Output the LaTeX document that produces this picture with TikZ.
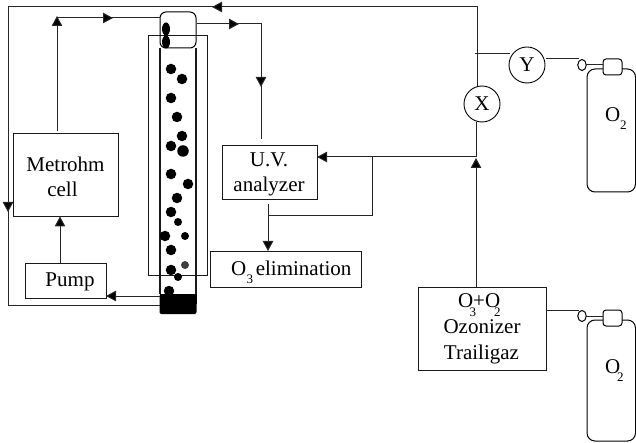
\documentclass[tikz,border=0pt]{standalone}
\usepackage{fontspec}
\setmainfont{Liberation Serif}
\usetikzlibrary{arrows.meta,calc,shapes.geometric}
\newcommand{\lowidx}[3]{\rlap{\kern#1\raisebox{#2}{\fontsize{13}{15}\selectfont #3}}}
\tikzset{
  x=1pt,y=-1pt,
  every node/.style={inner sep=0pt,outer sep=0pt},
  wire/.style={draw=black!85,line width=1pt},
  flow/.style={wire,-{Triangle[length=10pt,width=10.5pt,fill=black]}},
  boxnode/.style={draw=black!90,rectangle,line width=0.9pt},
  txt/.style={anchor=base,font=\fontsize{21}{25}\selectfont},
  dial/.style={draw=black,circle,minimum size=36pt,line width=0.9pt,font=\fontsize{21}{25}\selectfont},
  bubble/.style={fill=black,draw=none,circle,minimum size=#1},
  bubble/.default=10.5pt,
  valve/.style={draw=black,rectangle,rounded corners=3pt,line width=1pt,minimum width=19pt,minimum height=16pt},
  orifice/.style={draw=black,ellipse,line width=1pt,fill=white,minimum width=8.5pt,minimum height=11pt},
  column/.style={draw=black!90,line width=1.5pt}
}
\begin{document}
\begin{tikzpicture}
\useasboundingbox (0,0) rectangle (636,443);
% boxes
\node[boxnode,minimum width=105pt,minimum height=83pt] (metrohm) at (65.5,174.5) {};
\node[boxnode,minimum width=81pt,minimum height=35pt] (pump) at (65.5,280.5) {};
\node[boxnode,minimum width=95pt,minimum height=54pt] (uv) at (269.5,172) {};
\node[boxnode,minimum width=151pt,minimum height=36pt] (elim) at (285.5,269) {};
\node[boxnode,minimum width=128pt,minimum height=83pt] (ozon) at (482,328.5) {};
\node[boxnode,minimum width=59pt,minimum height=240pt] (jacket) at (177.5,155) {};
\node[draw=black,rectangle,rounded corners=6pt,line width=1pt,minimum width=36pt,minimum height=36pt] (head) at (178,30) {};
\node[fill=black,draw=none,rectangle,rounded corners=2pt,minimum width=37pt,minimum height=20pt] (base) at (178,304) {};
\fill[black] (159.5,294) rectangle (196.5,304);
% column walls
\draw[column] (160,48) -- (160,294);
\draw[column] (196,48) -- (196,294);
% bubbles
\node[fill=black,ellipse,minimum width=8pt,minimum height=13pt] (t1) at (166,29) {};
\node[fill=black,ellipse,minimum width=8pt,minimum height=13pt] (t2) at (166,42) {};
\foreach \n/\x/\y/\s in {a/171/69/10.5,b/182/79/10.5,c/171/98/10.5,d/177/117/10.5,e/182/136/10.5,f/171/146/10.5,g/183/151/11.5,h/171/174/10.5,i/188/184/10.5,j/177/198/10.5,k/171/212/10.5,l/178/222/8,m/165/236/10.5,n/185/236/8,o/171/250/10.5,q/171/270/10.5,r/178/277/8,s/169/291/10.5}
  \node[bubble=\s pt] (b\n) at (\x,\y) {};
\node[bubble=8pt,fill=black!75] (bp) at (185,265) {};
% dials
\node[dial] (X) at (482,104) {X};
\node[dial] (Y) at (527,65) {Y};
% coordinates
\coordinate (loopA) at (160,305);
\coordinate (loopB) at (8,305);
\coordinate (loopC) at (8,7);
\coordinate (loopD) at (477,7);
\coordinate (loopE) at (477,86.5);
\coordinate (loopMid) at (8,212);
\coordinate (loopTop) at (212,7);
\coordinate (mTop) at (57,131);
\coordinate (mUp) at (57,16);
\coordinate (mCorner) at (57,18);
\coordinate (mMid) at (113,18);
\coordinate (hIn) at (160,18);
\coordinate (hOut) at (197,24);
\coordinate (oMid) at (239,24);
\coordinate (oCorner) at (261,24);
\coordinate (oDown) at (261,87);
\coordinate (oEnd) at (261,139);
\coordinate (pipeIn) at (160,296);
\coordinate (gasJoin) at (476,157);
\coordinate (gasLow) at (476,287);
\coordinate (gasTip) at (476,158);
\coordinate (gasTop) at (476,122);
\coordinate (uvIn) at (317,157);
\coordinate (brJ) at (372,157);
\coordinate (brC) at (372,216);
\coordinate (brL) at (268,216);
\coordinate (uvOut) at (268,204);
\coordinate (pumpOut) at (60,263);
\coordinate (metIn) at (60,216.5);
\coordinate (yBr) at (474.5,54);
\coordinate (yIn) at (510,54);
% loop
\draw[wire] (loopA) -- (loopB) -- (loopC) -- (loopD) -- (loopE);
\draw[flow] (loopD) -- (loopTop);
\draw[flow] (loopC) -- (loopMid);
% metrohm out
\draw[flow] (mTop) -- (mUp);
\draw[wire] (mCorner) -- (hIn);
\draw[flow] (mCorner) -- (mMid);
% head out
\draw[wire] (hOut) -- (oCorner) -- (oEnd);
\draw[flow] (hOut) -- (oMid);
\draw[flow] (oCorner) -- (oDown);
% pump
\draw[flow] (pipeIn) -- (pipeIn -| pump.east);
\draw[flow] (pumpOut) -- (metIn);
% gas
\draw[wire] (gasJoin) -- (gasTop);
\draw[flow] (gasLow) -- (gasTip);
\draw[flow] (gasJoin) -- (uvIn);
\draw[wire] (brJ) -- (brC) -- (brL);
\draw[flow] (uvOut) -- (uvOut |- elim.north);
\draw[wire] (yBr) -- (yIn);
% cylinders
\foreach \nm/\ty/\cb/\fromx in {A/59/192/546,B/310/441/546}{
  \coordinate (wire\nm) at (\fromx,\ty);
  \coordinate (wireEnd\nm) at (579,\ty);
  \node[valve,anchor=north west] (valve\nm) at (603,\ty) {};
  \draw[wire] (wire\nm) -- (wireEnd\nm);
  \node[orifice] (orf\nm) at (582,\ty+6) {};
  \draw[wire] (orf\nm.east) -- (valve\nm.west |- orf\nm.east);
  \draw[line width=1pt,rounded corners=8pt] (603,\ty+10) -- (587,\ty+10) -- (587,\cb) -- (635.5,\cb) -- (635.5,\ty+10) -- (622,\ty+10);
}
% texts
\node[txt] (tMet) at (65.5,172) {Metrohm};
\node[txt] (tCell) at (62.5,197) {cell};
\node[txt] (tPump) at (70,286) {Pump};
\node[txt] (tUV) at (269,167) {U.V.};
\node[txt] (tAn) at (269,192) {analyzer};
\node[txt,anchor=base west] (tO3) at (231,276) {O\lowidx{0.4pt}{-7pt}{3}\kern9.6pt elimination};
\node[txt,anchor=base west] (tOzf) at (458,307) {O\lowidx{-3.5pt}{-9pt}{3}+O\lowidx{-6pt}{-9pt}{2}};
\node[txt] (tOz) at (482,333) {Ozonizer};
\node[txt] (tTr) at (481.5,359) {Trailigaz};
\node[txt,anchor=base west] (tC1) at (605,122) {O\lowidx{0pt}{-8pt}{2}};
\node[txt,anchor=base west] (tC2) at (605,373) {O\lowidx{-3pt}{-8pt}{2}};
\end{tikzpicture}
\end{document}
